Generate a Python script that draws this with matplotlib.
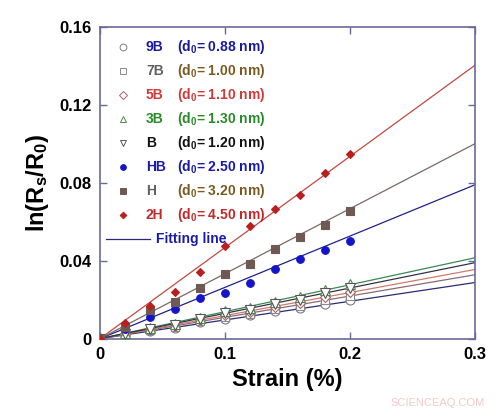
import matplotlib.pyplot as plt
import numpy as np

plt.rcParams["font.family"] = ["Liberation Sans", "DejaVu Sans"]
plt.rcParams["font.weight"] = "bold"
plt.rcParams["mathtext.fontset"] = "custom"
plt.rcParams["mathtext.rm"] = "Liberation Sans:bold"
plt.rcParams["mathtext.bf"] = "Liberation Sans:bold"
plt.rcParams["mathtext.default"] = "bf"

# strain values (%)
strain = [0, 0.02, 0.04, 0.06, 0.08, 0.10, 0.12, 0.14, 0.16, 0.18, 0.20]

# measured ln(Rs/R0)
y_9B = [0, 0.0020, 0.0040, 0.0057, 0.0085, 0.0102, 0.0120, 0.0140, 0.0157, 0.0180, 0.0196]
y_7B = [0, 0.0022, 0.0043, 0.0061, 0.0089, 0.0112, 0.0128, 0.0151, 0.0170, 0.0197, 0.0220]
y_5B = [0, 0.0024, 0.0046, 0.0065, 0.0094, 0.0122, 0.0137, 0.0163, 0.0183, 0.0214, 0.0240]
y_3B = [0, 0.0028, 0.0052, 0.0074, 0.0105, 0.0143, 0.0158, 0.0190, 0.0213, 0.0250, 0.0280]
y_B = [0, 0.0026, 0.0049, 0.0070, 0.0100, 0.0134, 0.0148, 0.0177, 0.0198, 0.0232, 0.0260]
y_HB = [0, 0.0050, 0.0110, 0.0153, 0.0210, 0.0236, 0.0287, 0.0360, 0.0410, 0.0453, 0.0503]
y_H = [0, 0.0060, 0.0146, 0.0186, 0.0260, 0.0330, 0.0385, 0.0458, 0.0520, 0.0583, 0.0655]
y_2H = [0, 0.0079, 0.0166, 0.0237, 0.0344, 0.0476, 0.0576, 0.0665, 0.0737, 0.0850, 0.0947]

# fitting line ends at strain = 0.3
fit_x = [0, 0.3]
fit_end = {"9B": 0.0288, "7B": 0.0328, "5B": 0.0355, "3B": 0.0415,
           "B": 0.0390, "HB": 0.0790, "H": 0.1001, "2H": 0.1404}

names = ["9B", "7B", "5B", "3B", "B", "HB", "H", "2H"]
d0 = ["0.88", "1.00", "1.10", "1.30", "1.20", "2.50", "3.20", "4.50"]
values = [y_9B, y_7B, y_5B, y_3B, y_B, y_HB, y_H, y_2H]

markers = ["o", "s", "D", "^", "v", "o", "s", "D"]
mfaces = ["white"] * 5 + ["#1414c8", "#6e5a52", "#b82020"]
medges = ["#7a7a8a", "#8a8a8a", "#b06060", "#4a8a4a", "#555555",
          "#1414c8", "#6e5a52", "#b82020"]
msizes = [6.5, 6, 5, 6.5, 6.5, 5.5, 5.5, 4.5]
line_cols = ["#2a2a78", "#8a6a78", "#d07a6a", "#3a8a50", "#333344",
             "#20208a", "#7a6a62", "#c04a40"]
name_cols = ["#1a1a9a", "#606060", "#d03a3a", "#2a8a2a", "#111111",
             "#1a1aa8", "#606060", "#c02a2a"]
d0_cols = ["#1a1a9a", "#7a5a20", "#d03a3a", "#2a8a2a", "#111111",
           "#1a1aa8", "#7a5a20", "#c02a2a"]

fig = plt.figure(figsize=(5.0, 4.16), dpi=100)
ax = fig.add_axes([0.2, 0.186, 0.75, 0.749])

for i, n in enumerate(names):
    ax.plot(fit_x, [0, fit_end[n]], color=line_cols[i], lw=0.9, zorder=2)
for i, n in enumerate(names):
    ax.plot(strain, values[i], ls="none", marker=markers[i], ms=msizes[i],
            mfc=mfaces[i], mec=medges[i], mew=0.8, zorder=3)

ax.set_xlim(0, 0.3)
ax.set_ylim(0, 0.16)
ax.set_xticks([0, 0.1, 0.2, 0.3])
ax.set_xticklabels(["0", "0.1", "0.2", "0.3"])
ax.set_yticks([0, 0.04, 0.08, 0.12, 0.16])
ax.set_yticklabels(["0", "0.04", "0.08", "0.12", "0.16"])
ax.tick_params(direction="in", length=5, width=1, color="#6a6a9a",
               top=True, right=True, labelsize=12, pad=6)
for s in ax.spines.values():
    s.set_color("#6a6a9a")
    s.set_linewidth(1.2)
for lab in ax.get_xticklabels() + ax.get_yticklabels():
    lab.set_fontweight("bold")

ax.set_xlabel("Strain (%)", fontsize=17, fontweight="bold", labelpad=4)
ax.set_ylabel(r"ln(R$_s$/R$_0$)", fontsize=17, fontweight="bold", labelpad=6)

# legend drawn by hand
row0 = 47
dy = 24
for i, n in enumerate(names):
    ypix = row0 + i * dy
    yf = 1 - (ypix - 27) / 311.5
    xm = (123 - 100) / 375
    ax.plot([xm], [yf], transform=ax.transAxes, ls="none", marker=markers[i],
            ms=msizes[i] * 0.75, mfc=mfaces[i], mec=medges[i], mew=0.7,
            clip_on=False)
    ax.text((146 - 100) / 375, yf, n, transform=ax.transAxes, fontsize=10,
            fontweight="bold", color=name_cols[i], va="center")
    ax.text((177 - 100) / 375, yf, "(d$_0$= %s nm)" % d0[i],
            transform=ax.transAxes, fontsize=10, fontweight="bold",
            color=d0_cols[i], va="center")
yf = 1 - (row0 + 8 * dy - 27) / 311.5
ax.plot([(106 - 100) / 375, (150 - 100) / 375], [yf, yf],
        transform=ax.transAxes, color="#2a2a78", lw=0.9)
ax.text((156 - 100) / 375, yf, "Fitting line", transform=ax.transAxes,
        fontsize=10, fontweight="bold", color="#1a1aa8", va="center")

fig.text(0.97, 0.02, "SCIENCEAQ.COM", ha="right", va="bottom", fontsize=8,
         color="#f2c8c8", fontweight="normal")

fig.savefig("out.png", dpi=100)
